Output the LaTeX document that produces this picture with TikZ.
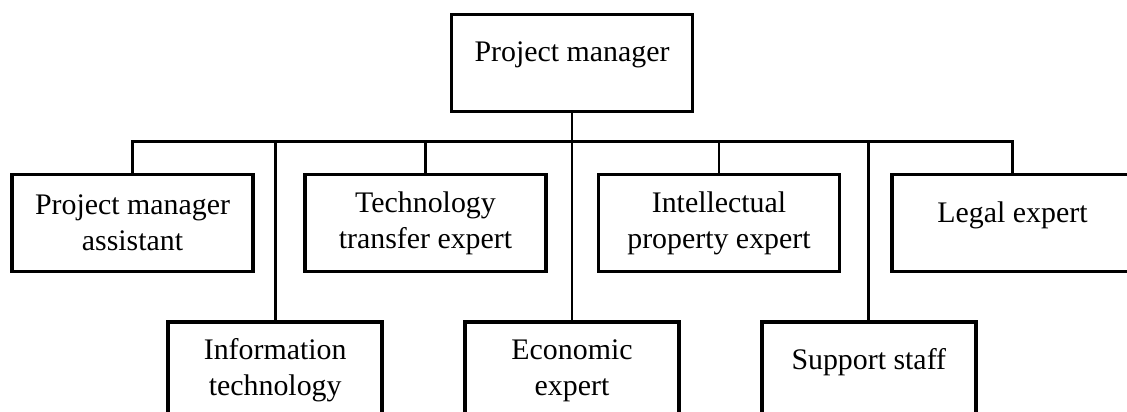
\documentclass[tikz,border=0pt]{standalone}
\usepackage{fontspec}
\setmainfont{Liberation Serif}
\usetikzlibrary{calc}
\usetikzlibrary{positioning}

\begin{document}
\begin{tikzpicture}[
		x=0.02cm,y=-0.02cm,
		role/.style={draw=black,line width=2.2pt,rectangle,minimum width=4.82cm,minimum height=1.94cm,align=center,font=\fontsize{17}{20.5}\selectfont},
		staff/.style={role,minimum width=4.28cm},
		oneline/.style={text depth=12.5pt},
		link/.style={line width=1.7pt}
	]
		\useasboundingbox (0,0) rectangle (1127,412);
		\clip (0,0) rectangle (1127,412);

		\node [role,oneline] (pm) at (572,63) {Project manager};

		\node [staff,below=4.13cm of pm] (economic) {Economic\\expert};
		\node [staff,left=1.58cm of economic] (info_tech) {Information\\technology};
		\node [staff,right=1.58cm of economic,oneline] (support) {Support staff};

		\node [role] (pm_assistant) at (132.5,223) {Project manager\\assistant};
		\node [role] (tech_transfer) at (425.5,223) {Technology\\transfer expert};
		\node [role] (ip_expert) at (719,223) {Intellectual\\property expert};
		\node [role,oneline] (legal) at (1012.5,223) {Legal expert};

		\coordinate (bus) at ($(pm.south)+(0,28.5)$);

		\draw [link] (pm.south) -- (economic.north);
		\draw [link] (pm_assistant.north) |- (bus) -| (legal.north);
		\foreach \n in {info_tech,tech_transfer,ip_expert,support}
			\draw [link] (\n.north) -- (\n.north |- bus);
	\end{tikzpicture}
\end{document}
